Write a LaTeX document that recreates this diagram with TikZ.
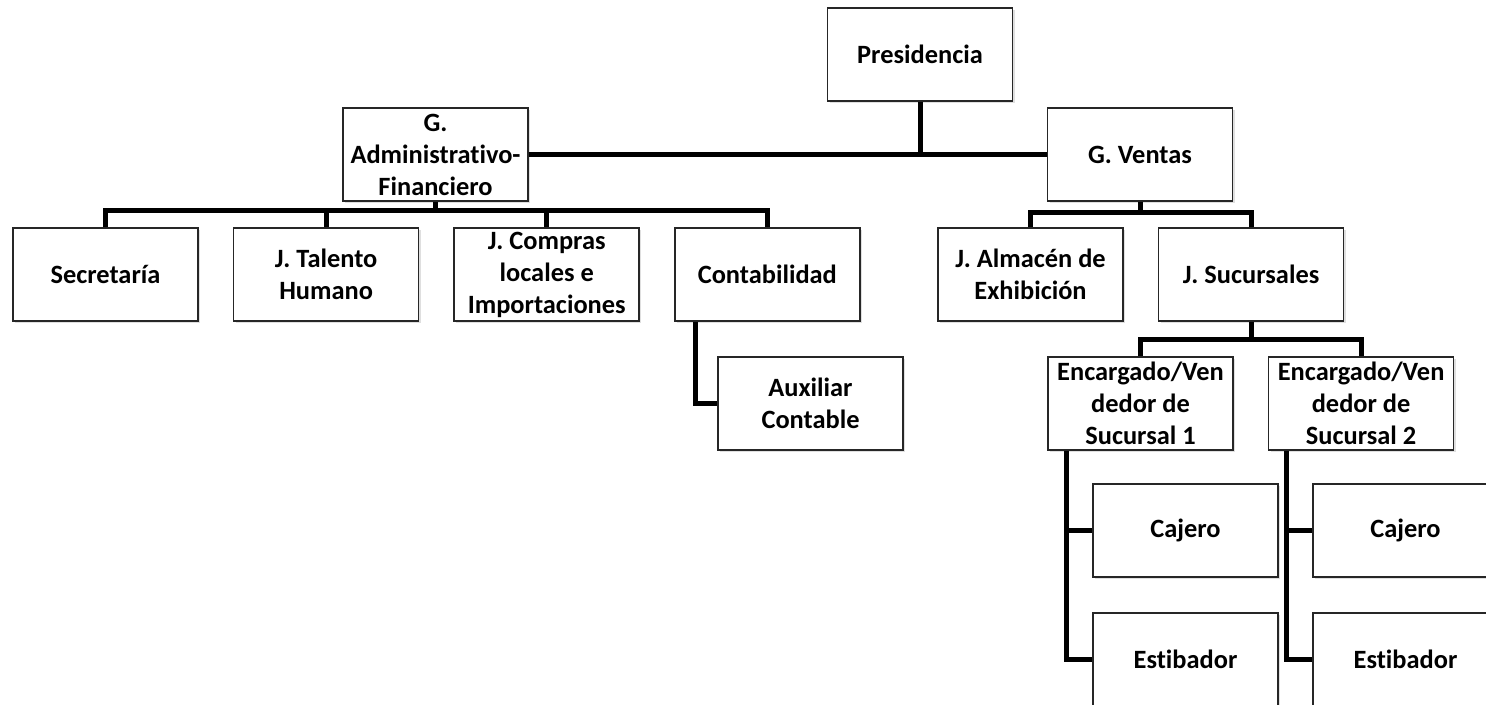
\documentclass[tikz,border=0pt]{standalone}
\usepackage{fontspec}
\setmainfont{Carlito}[Ligatures=NoCommon]
\usetikzlibrary{positioning, shadows}

\begin{document}
\begin{tikzpicture}[x=0.5pt, y=-0.5pt,
    orgbox/.style={rectangle, draw=black!85, line width=0.8pt, fill=white,
        minimum width=92.5pt, minimum height=46.5pt, inner sep=1pt, align=center,
        font=\bfseries\fontsize{13.2}{16}\selectfont,
        drop shadow={shadow xshift=1pt, shadow yshift=-1.2pt, opacity=0.25}},
    link/.style={line width=2.5pt, line join=miter}]
        \path[use as bounding box, clip] (0,0) rectangle (1486,705);
        % top levels
        \node[orgbox] (pres) at (920,54.5) {Presidencia};
        \node[orgbox] (gadm) at (435.5,154.5) {G.\\Administrativo-\\Financiero};
        \node[orgbox] (gven) at (1140,154.5) {G. Ventas};
        % administrativo
        \node[orgbox] (sec) at (105.5,274.5) {Secretaría};
        \node[orgbox] (tal) [right=17pt of sec] {J. Talento\\Humano};
        \node[orgbox] (com) [right=17pt of tal] {J. Compras\\locales e\\Importaciones};
        \node[orgbox] (cont) [right=17pt of com] {Contabilidad};
        \node[orgbox] (aux) at (810.5,403.5) {Auxiliar\\Contable};
        % ventas
        \node[orgbox] (alm) at (1030.5,274.5) {J. Almacén de\\Exhibición};
        \node[orgbox] (suc) [right=17pt of alm] {J. Sucursales};
        \node[orgbox] (enc1) at (1140.5,403.5) {Encargado/Ven\\dedor de\\Sucursal 1};
        \node[orgbox] (enc2) [right=17pt of enc1] {Encargado/Ven\\dedor de\\Sucursal 2};
        \node[orgbox] (caj1) at (1185.5,530.5) {Cajero};
        \node[orgbox] (est1) at (1185.5,659.5) {Estibador};
        \node[orgbox] (caj2) at (1405.5,530.5) {Cajero};
        \node[orgbox] (est2) at (1405.5,659.5) {Estibador};

        \coordinate (abar) at ([yshift=-4.5pt]gadm.south);
        \coordinate (vbar) at ([yshift=-5.5pt]gven.south);
        \coordinate (sbar) at ([yshift=-9pt]suc.south);

        \draw[link] (gadm.east) -- (gven.west);
        \draw[link] (pres.south) -- (pres.south |- gadm.east);
        \draw[link] (gadm.south) -- (abar);
        \draw[link] (sec.north) |- (abar) -| (cont.north);
        \foreach \n in {tal, com}
            \draw[link] (\n.north) -- (\n.north |- abar);
        \draw[link] ([xshift=10.5pt]cont.south west) |- (aux.west);
        \draw[link] (gven.south) -- (vbar);
        \draw[link] (alm.north) |- (vbar) -| (suc.north);
        \draw[link] (suc.south) -- (sbar);
        \draw[link] (enc1.north) |- (sbar) -| (enc2.north);
        \foreach \e/\c/\s in {enc1/caj1/est1, enc2/caj2/est2} {
            \coordinate (\e b) at ([xshift=9.5pt]\e.south west);
            \draw[link] (\e b) |- (\s.west);
            \draw[link] (\e b |- \c.west) -- (\c.west);
        }
    \end{tikzpicture}
\end{document}
